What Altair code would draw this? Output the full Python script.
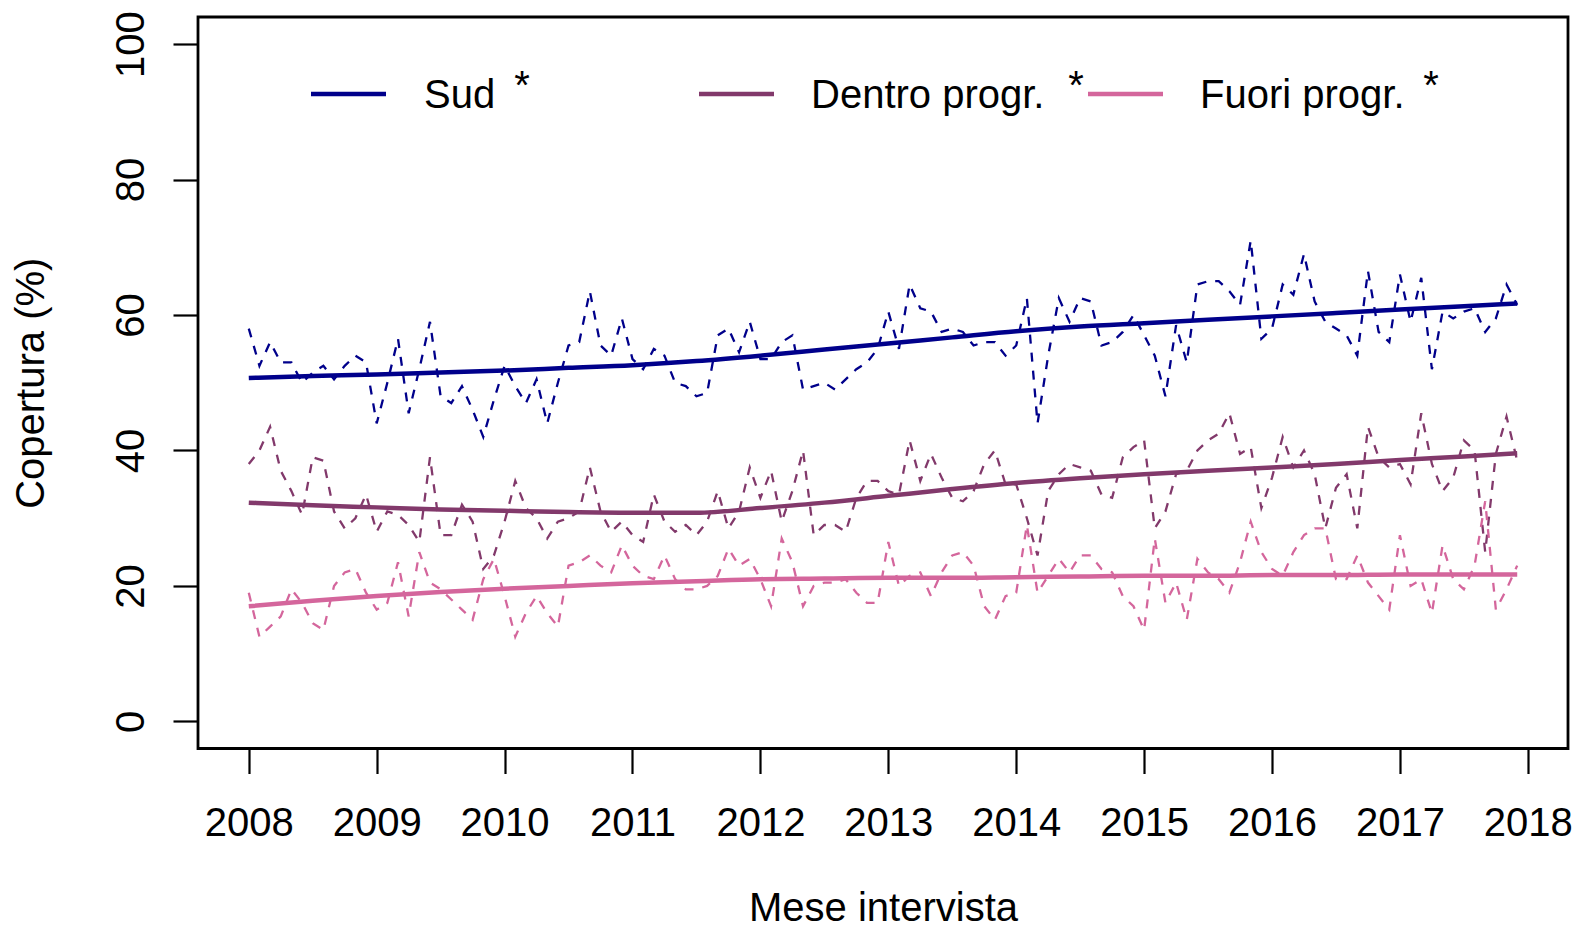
import altair as alt
import pandas as pd

# ---------------- data ----------------
series_names = ["Sud", "Dentro progr.", "Fuori progr."]
series_colors = ["#00008B", "#82396B", "#D4669C"]

start_year = 2008
n_months = 120

sud = [
    58, 52.5, 56, 53, 53, 50, 51.5, 52.5, 50.5, 52.5, 54, 53,
    44, 50, 56.5, 45.5, 52, 59, 48, 47, 49.5, 46, 42, 47.5,
    52.5, 49.5, 47, 50.5, 44, 50, 55.5, 56, 63.5, 55.5, 54, 59.5,
    53.5, 52, 55, 54, 50, 49.5, 48, 48.5, 57, 58, 54.5, 59,
    53.5, 53.5, 56, 57, 49, 49.5, 50, 49, 50.5, 52, 53, 55,
    60.5, 55, 64.5, 61, 60.5, 57.5, 58, 57.5, 55.5, 56, 56, 54,
    55.5, 62.5, 44, 54, 62.5, 59, 62.5, 62, 55.5, 56, 57.5, 60,
    57, 54, 48, 58.5, 53, 64.5, 65, 65, 63.5, 61.5, 71, 56.5,
    58, 64.5, 63, 69, 62, 59, 58, 57, 54, 66.5, 57.5, 56,
    66, 59, 65.5, 52, 60.5, 59.5, 60.5, 61, 57.5, 59.5, 64.5, 61.5,
]
dentro = [
    38, 40, 43.5, 37, 34, 30.5, 39, 38.5, 31, 28.5, 30, 33.5,
    28, 31, 30.5, 29, 26.5, 39, 27.5, 27.5, 32, 29.5, 22.5, 24.5,
    29.5, 35.5, 31.5, 30, 27, 29.5, 30, 31, 37.5, 31, 28, 29.5,
    27.5, 26.5, 33.5, 29.5, 28, 29, 27.5, 29.5, 34, 28.5, 31, 37.5,
    33, 37, 29.5, 34, 40, 27.5, 29, 29, 28, 33, 35.5, 35.5,
    34, 33.5, 41.5, 35.5, 39.5, 36, 33, 32.5, 34, 38, 40, 35,
    35, 30, 24.5, 34, 36.5, 38, 37.5, 37, 33.5, 33, 39, 40.5,
    41.5, 28.5, 31, 36.5, 37, 40, 41.5, 42.5, 45.5, 39.5, 40.5, 31.5,
    36, 42, 37.5, 40, 36.5, 28.5, 34.5, 36.5, 28.5, 43.5, 39, 37.5,
    38, 35, 45.5, 38, 34, 36, 41.5, 40, 25, 39.5, 45, 38.5,
]
fuori = [
    19, 12.5, 14, 15.5, 19.5, 17.5, 14.5, 13.5, 20, 22, 22.5, 19,
    16.5, 17.5, 23.5, 15.5, 25, 20.5, 19.5, 18, 16.5, 15, 21, 24,
    18.5, 12.5, 16, 18.5, 16, 14, 23, 23.5, 24.5, 23, 22, 26,
    23, 21.5, 21, 24.5, 21, 19.5, 19.5, 20, 21.5, 25.5, 23, 24,
    21, 17, 27, 23.5, 17, 20, 20.5, 20.5, 21, 19, 17.5, 17.5,
    26.5, 20, 21.5, 22, 18.5, 22, 24.5, 25, 23, 17, 15, 18.5,
    19, 29, 19, 21.5, 24, 22, 24.5, 24.5, 22.5, 22, 18.5, 17,
    13.5, 27, 17.5, 20.5, 15, 24, 22, 21, 19, 23.5, 29.5, 25,
    22.5, 21.5, 25, 27.5, 28.5, 28.5, 21, 21, 24.5, 20.5, 18.5, 16.5,
    27.5, 20, 21, 16, 26, 21, 19.5, 23, 32.5, 16.5, 19.5, 23,
]

# smoothed trends, read at half-year knots
trend_t = [2008.0, 2008.5, 2009.0, 2009.5, 2010.0, 2010.5, 2011.0, 2011.5,
           2012.0, 2012.5, 2013.0, 2013.5, 2014.0, 2014.5, 2015.0, 2015.5,
           2016.0, 2016.5, 2017.0, 2017.5, 2017.917]
sud_trend = [50.7, 51.0, 51.2, 51.5, 51.8, 52.2, 52.6, 53.2, 54.0, 54.9, 55.8,
             56.7, 57.6, 58.3, 58.8, 59.3, 59.8, 60.3, 60.8, 61.3, 61.7]
dentro_trend = [32.3, 31.9, 31.6, 31.3, 31.1, 30.9, 30.8, 30.8, 31.5, 32.3, 33.3,
                34.3, 35.2, 35.9, 36.5, 37.0, 37.5, 38.0, 38.6, 39.1, 39.6]
fuori_trend = [17.0, 17.8, 18.5, 19.1, 19.6, 20.0, 20.4, 20.7, 21.0, 21.1, 21.2,
               21.2, 21.3, 21.4, 21.5, 21.5, 21.6, 21.6, 21.7, 21.7, 21.7]

year_ticks = list(range(2008, 2019))
y_ticks = [0, 20, 40, 60, 80, 100]

# ---------------- tables ----------------
months = [start_year + i / 12 for i in range(n_months)]
rows = []
for name, vals in zip(series_names, [sud, dentro, fuori]):
    for t, v in zip(months, vals):
        rows.append({"t": t, "v": v, "s": name})
df = pd.DataFrame(rows)

trows = []
for name, vals in zip(series_names, [sud_trend, dentro_trend, fuori_trend]):
    for t, v in zip(trend_t, vals):
        trows.append({"t": t, "v": v, "s": name})
dft = pd.DataFrame(trows)

# ---------------- styling ----------------
FONT = "Liberation Sans"
FS = 40
W, H = 1370, 731.5

color = alt.Color("s:N", scale=alt.Scale(domain=series_names, range=series_colors), legend=None)

xenc = alt.X(
    "t:Q",
    scale=alt.Scale(domain=[2007.603, 2018.314], nice=False, zero=False),
    axis=alt.Axis(
        values=year_ticks, format="d", grid=False, domain=False,
        tickSize=25, tickWidth=2.2, tickColor="black",
        labelFont=FONT, labelFontSize=FS, labelColor="black", labelPadding=30,
        labelFlush=False, labelOverlap=False,
        title="Mese intervista", titleFont=FONT, titleFontSize=FS,
        titleFontWeight="normal", titleColor="black",
        titleBaseline="alphabetic", titleY=172,
    ),
)
yenc = alt.Y(
    "v:Q",
    scale=alt.Scale(domain=[-4, 104], nice=False, zero=False),
    axis=alt.Axis(
        values=y_ticks, grid=False, domain=False,
        tickSize=25, tickWidth=2.2, tickColor="black",
        labelFont=FONT, labelFontSize=FS, labelColor="black",
        labelAngle=270, labelAlign="center", labelBaseline="bottom", labelPadding=22,
        labelFlush=False, labelOverlap=False,
        title="Copertura (%)", titleFont=FONT, titleFontSize=FS,
        titleFontWeight="normal", titleColor="black",
        titleAngle=270, titleAlign="center", titleBaseline="middle",
        titleX=-167, titleY=H / 2,
    ),
)

dashed = alt.Chart(df).mark_line(strokeDash=[9, 9], strokeWidth=2.3).encode(
    x=xenc, y=yenc, color=color, detail="s:N", order="t:Q"
)
trend = alt.Chart(dft).mark_line(strokeWidth=4.5, interpolate="monotone").encode(
    x="t:Q", y="v:Q", color=color, detail="s:N", order="t:Q"
)

# ---------------- legend (layout in pixels of the plot area) ----------------
legend_line_x = [113, 501, 890]
legend_text_x = [226, 613, 1002]
legend_star_x = [324, 878, 1233]
legend_y = 77

legend_layers = []
one = alt.Data(values=[{"a": 1}])
for name, col, lx, tx, sx in zip(series_names, series_colors, legend_line_x, legend_text_x, legend_star_x):
    legend_layers.append(
        alt.Chart(one).mark_rule(color=col, strokeWidth=4.5).encode(
            x=alt.value(lx), x2=alt.value(lx + 75), y=alt.value(legend_y)
        )
    )
    legend_layers.append(
        alt.Chart(one).mark_text(text=name, align="left", baseline="alphabetic",
                                 font=FONT, fontSize=FS, color="black").encode(
            x=alt.value(tx), y=alt.value(legend_y + 14)
        )
    )
    legend_layers.append(
        alt.Chart(one).mark_text(text="*", align="center", baseline="alphabetic",
                                 font=FONT, fontSize=FS, color="black").encode(
            x=alt.value(sx), y=alt.value(legend_y + 5)
        )
    )

chart = alt.layer(dashed, trend, *legend_layers).properties(
    width=W, height=H,
    autosize=alt.AutoSizeParams(type="none"),
    padding={"left": 190, "top": 9, "right": 6, "bottom": 182},
    background="white",
).configure_view(stroke="black", strokeWidth=2.8)

chart.save("out.html", embed_options={"renderer": "svg", "actions": False})
